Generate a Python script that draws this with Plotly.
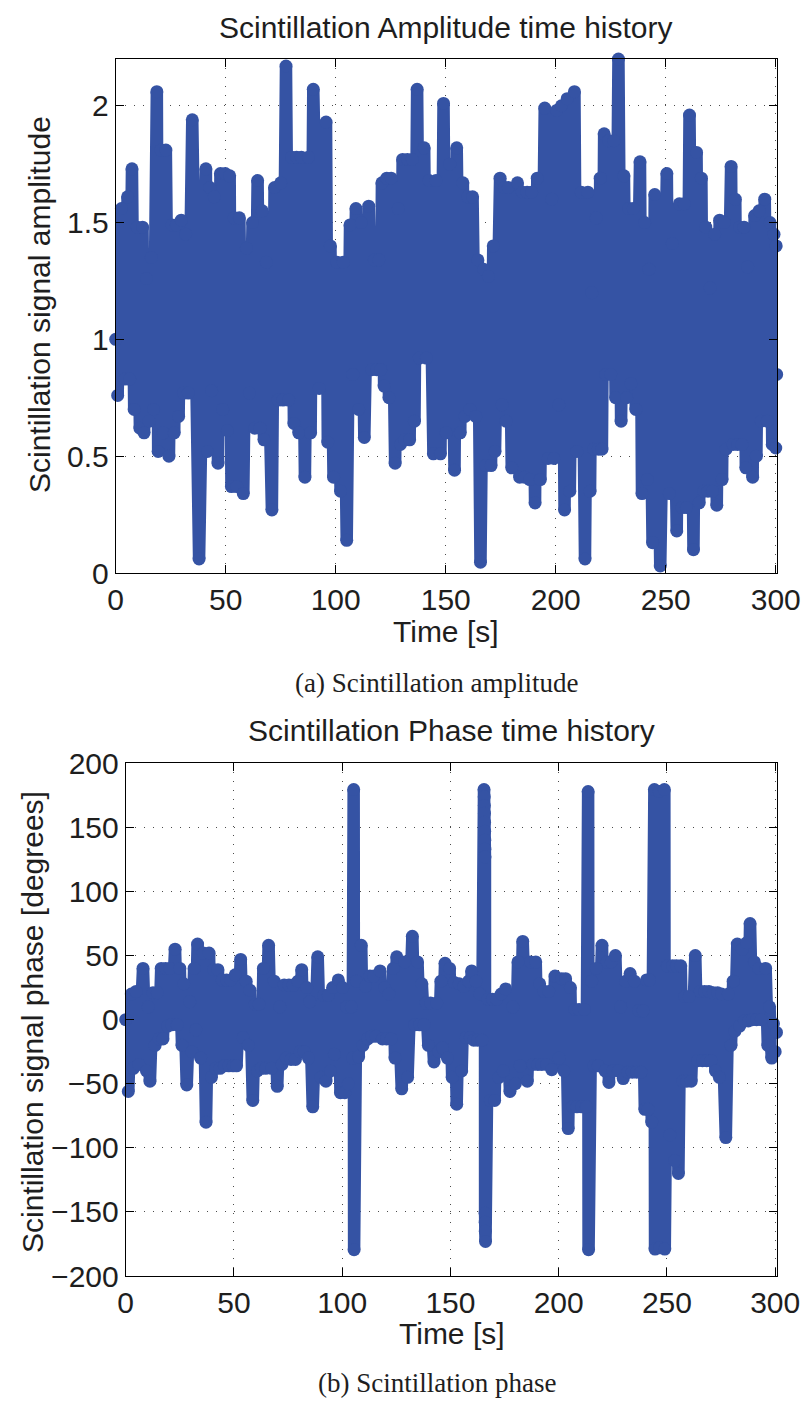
import plotly.graph_objects as go

# ---- Scintillation amplitude: time [s] and amplitude at the turning points ----
amp_t = [0.0, 0.9, 2.6, 4.2, 5.4, 6.3, 7.4, 8.4, 9.8, 11.0, 12.2, 12.9, 14.0, 15.2, 16.2, 17.2,
         18.7, 19.3, 20.6, 21.6, 22.8, 24.2, 25.6, 26.6, 27.6, 28.6, 29.8, 30.8, 31.8, 33.0,
         34.8, 37.9, 41.0, 41.7, 42.8, 43.6, 44.8, 46.5, 47.6, 48.6, 49.8, 50.7, 51.8, 52.6,
         53.8, 55.0, 56.2, 58.0, 59.4, 60.8, 62.2, 63.2, 64.5, 65.6, 66.6, 67.4, 68.5, 71.0,
         72.2, 73.8, 75.0, 76.0, 77.4, 78.6, 80.0, 81.0, 82.2, 83.2, 84.4, 86.0, 87.6, 88.6,
         89.8, 92.5, 95.6, 96.4, 97.6, 99.0, 100.6, 102.2, 103.4, 105.0, 106.5, 107.8, 109.2,
         110.4, 111.6, 113.0, 115.0, 116.4, 117.6, 118.6, 119.6, 120.4, 121.0, 122.0, 123.2,
         124.2, 125.2, 127.0, 128.4, 129.4, 130.4, 131.4, 132.6, 133.6, 134.8, 135.8, 137.0,
         138.0, 140.2, 141.2, 142.4, 144.4, 145.6, 147.6, 149.0, 150.2, 151.8, 154.0, 155.0,
         156.6, 157.8, 158.8, 160.0, 161.0, 162.2, 163.6, 164.6, 165.8, 167.2, 168.2, 169.4,
         170.6, 171.6, 172.4, 174.7, 175.6, 176.6, 177.4, 178.4, 180.0, 182.6, 183.6, 184.8,
         185.8, 187.0, 188.2, 189.0, 190.6, 191.6, 193.0, 195.0, 196.5, 198.2, 199.2, 200.4,
         201.4, 202.6, 204.0, 205.2, 206.4, 208.5, 209.6, 211.6, 213.3, 214.6, 215.6, 216.4,
         217.2, 218.4, 219.4, 220.2, 221.0, 222.0, 222.8, 224.0, 225.0, 226.4, 227.2, 228.5,
         229.7, 231.0, 232.2, 233.2, 234.2, 235.2, 236.4, 238.3, 239.2, 240.4, 241.6, 242.4,
         244.0, 245.0, 247.5, 250.5, 251.6, 253.0, 255.0, 256.2, 257.4, 258.4, 259.4, 260.8,
         262.6, 264.0, 265.2, 266.2, 267.2, 268.2, 269.2, 270.2, 271.2, 272.2, 273.2, 274.5,
         275.6, 276.6, 277.4, 279.7, 280.6, 281.6, 282.6, 283.6, 284.6, 285.6, 286.4, 287.2,
         289.5, 290.4, 291.2, 292.4, 293.4, 295.0, 296.2, 297.4, 298.4, 299.2, 300.0, 300.2,
         300.4]
amp_v = [1.00, 0.76, 1.56, 0.83, 1.61, 0.83, 1.73, 0.70, 1.48, 0.62, 1.48, 0.60, 1.26, 0.65, 1.35, 0.70,
         2.06, 0.52, 1.81, 0.60, 1.81, 0.50, 1.49, 0.60, 1.49, 0.67, 1.51, 0.77, 1.45, 0.77,
         1.94, 0.06, 1.73, 0.52, 1.65, 0.78, 1.61, 0.47, 1.71, 0.70, 1.71, 0.61, 1.70, 0.37,
         1.52, 0.37, 1.52, 0.34, 1.39, 0.77, 1.50, 0.62, 1.68, 0.62, 1.55, 0.57, 1.33, 0.27,
         1.65, 0.74, 1.67, 0.74, 2.17, 0.74, 1.78, 0.64, 1.78, 0.60, 1.78, 0.41, 1.78, 0.60,
         2.07, 0.79, 1.93, 0.56, 1.40, 0.41, 1.33, 0.35, 1.33, 0.14, 1.49, 0.85, 1.56,
         0.70, 1.50, 0.58, 1.57, 0.87, 1.34, 0.87, 1.34, 0.87, 1.67, 0.80, 1.69,
         0.75, 1.69, 0.47, 1.56, 0.55, 1.77, 0.57, 1.77, 0.57, 1.77, 0.65, 2.07,
         0.92, 1.82, 0.92, 1.68, 0.51, 1.68, 0.51, 2.01, 0.60, 1.75, 0.44, 1.82,
         0.60, 1.67, 0.67, 1.61, 0.70, 1.61, 0.67, 1.34, 0.046, 1.30, 0.46, 1.27,
         0.46, 1.40, 0.52, 1.69, 0.72, 1.65, 0.65, 1.65, 0.45, 1.67, 0.41, 1.63,
         0.41, 1.63, 0.40, 1.63, 0.30, 1.69, 0.40, 1.99, 0.49, 1.60, 0.49, 1.98,
         0.72, 2.00, 0.27, 2.03, 0.35, 2.06, 0.52, 1.63, 0.06, 1.63, 0.35, 1.20,
         0.53, 1.52, 0.53, 1.69, 0.53, 1.88, 0.85, 1.85, 0.85, 1.85, 0.75, 2.20,
         0.65, 1.70, 0.75, 1.56, 0.81, 1.56, 0.70, 1.76, 0.34, 1.50, 0.40, 1.30,
         0.13, 1.62, 0.03, 1.71, 0.34, 1.41, 0.18, 1.58, 0.28, 1.58, 0.28, 1.96,
         0.10, 1.80, 0.30, 1.69, 0.35, 1.48, 0.35, 1.22, 0.35, 1.45, 0.29, 1.51,
         0.40, 1.50, 0.53, 1.74, 0.55, 1.60, 0.55, 1.48, 0.55, 1.48, 0.45, 1.31,
         0.41, 1.53, 0.50, 1.55, 0.65, 1.60, 0.65, 1.50, 0.55, 1.45, 0.535, 1.40,
         0.85]

# ---- Scintillation phase: time [s] and phase [deg] at the turning points ----
phase_t = [0.0, 1.2, 2.6, 3.6, 4.8, 6.0, 8.0, 9.6, 10.4, 11.2, 12.6, 13.6, 14.6, 15.4, 16.4, 17.2,
           18.4, 19.4, 20.4, 21.2, 22.8, 23.8, 25.0, 26.0, 26.8, 28.2, 29.6, 30.6, 31.6, 32.4,
           33.2, 34.6, 35.8, 37.1, 38.5, 39.6, 40.6, 41.6, 42.6, 43.6, 44.6, 45.6, 46.6, 47.6,
           48.6, 49.6, 50.6, 51.2, 53.1, 54.2, 55.6, 56.6, 57.4, 58.7, 59.8, 60.8, 61.6, 62.6,
           63.6, 64.6, 66.0, 67.4, 68.6, 70.0, 71.2, 72.2, 73.2, 74.2, 75.4, 76.4, 77.4, 78.4,
           79.6, 80.6, 81.3, 82.4, 83.6, 84.4, 85.0, 86.4, 88.7, 90.2, 91.4, 92.5, 93.6, 94.6,
           95.6, 96.4, 98.2, 99.2, 100.2, 101.2, 102.0, 102.8, 104.2, 104.8, 105.3, 105.5,
           106.6, 107.6, 108.8, 109.6, 110.8, 111.8, 112.8, 113.6, 114.6, 115.6, 117.5, 118.6,
           119.6, 120.5, 121.6, 122.6, 123.6, 124.4, 125.2, 127.5, 128.8, 130.2, 132.4, 133.4,
           134.8, 135.8, 136.8, 137.8, 138.8, 139.8, 140.8, 142.4, 143.6, 144.6, 145.6, 146.4,
           147.5, 148.6, 149.6, 150.8, 151.8, 152.9, 154.0, 155.2, 156.2, 157.2, 158.4, 159.2,
           159.8, 160.8, 161.8, 162.6, 163.6, 164.6, 165.5, 165.6, 165.65, 165.7, 165.75, 165.8,
           165.85, 165.9, 165.95, 166.0, 166.05, 166.1, 166.2, 167.4, 168.4, 169.4, 170.4, 171.4,
           172.4, 173.4, 174.4, 175.5, 177.5, 178.8, 180.0, 181.2, 182.2, 183.4, 185.5, 187.0,
           188.2, 189.4, 190.4, 191.2, 192.2, 193.2, 194.4, 195.4, 196.8, 198.3, 200.2, 201.4,
           202.4, 203.2, 204.4, 205.4, 206.4, 207.4, 208.4, 209.4, 210.6, 211.8, 212.8, 213.6,
           213.8, 215.2, 216.2, 217.4, 218.2, 220.0, 221.4, 222.4, 223.2, 224.2, 225.0, 226.2,
           227.6, 228.6, 229.8, 231.0, 232.0, 233.0, 234.0, 235.0, 236.0, 237.0, 238.0, 239.0,
           239.8, 240.6, 241.3, 242.0, 243.0, 244.2, 244.5, 246.5, 246.6, 248.8, 249.0, 250.2,
           251.4, 252.6, 253.6, 254.4, 255.3, 256.4, 257.4, 258.2, 259.2, 260.2, 261.2, 263.1,
           264.2, 265.4, 266.4, 267.4, 268.4, 269.4, 270.4, 271.4, 272.4, 273.4, 274.2, 275.2,
           277.2, 278.4, 279.6, 280.6, 281.4, 282.5, 283.6, 284.8, 285.8, 286.8, 287.6, 288.4,
           289.4, 290.4, 291.4, 292.4, 293.6, 295.6, 296.6, 297.4, 298.4, 299.2, 300.0, 300.6]
phase_v = [0, -56, 20, -38, 22, -35, 40, -40, 10, -48, 21, -20, 21, -15, 40, -15,
           40, -5, 40, -4, 55, -4, 40, -20, 28, -51, 14, -25, 40, -8,
           59, -30, 52, -80, 52, -45, 39, -38, 39, -38, 31, -36, 31, -36,
           31, -36, 35, -36, 47, -14, 30, -20, 23, -63, 12, -40, 12, -38,
           40, -38, 58, -38, 30, -52, 10, -35, 27, -30, 27, -31, 27, -31,
           30, -25, 39, -25, 25, -30, 14, -68, 49, -45, 19, -48, 19, -40,
           25, -27, 31, -57, 25, -57, 10, -50, 10, -30, 179.5, -179.5,
           30, -29, 58, -20, 26, -15, 34, -13, 34, -13, 38, -15,
           25, -15, 20, -15, 40, -30, 49, -54, 45, -45, 65, -4,
           45, -4, 28, -4, 13, -20, 13, -33, 13, -25, 30, -22,
           44, -30, 40, -45, 29, -66, 28, -40, 26, -14, 30, -14,
           38, -16, 30, -16, 20, -16, 179.5, 174, 167, 161, 154, 147,
           140, 133, 127, -151, -158, -165, -173, 16, -63, 16, -63, 16,
           -45, 20, -40, 24, -56, 10, -50, 45, -36, 61, -48, 45,
           -35, 45, -35, 28, -35, 22, -35, 22, -39, 34, -30, 32,
           -40, 32, -85, 25, -68, 8, -68, 8, -68, 8, -68, 178,
           -179.5, 30, -36, 40, -36, 58, -40, 45, -49, 45, -40, 50,
           -40, 10, -46, 30, -41, 36, -41, 30, -41, 7, -41, 7,
           -70, 31, -70, 31, -80, 179.5, -179, 178, -178, 179.5, -179, 42,
           -90, 42, -110, 42, -120, 42, -48, 18, -48, 18, -48, 50,
           -32, 22, -32, 22, -32, 22, -32, 21, -40, 21, -45, 20,
           -92, 20, -20, 30, -9, 59, -5, 55, -1, 60, -1, 75,
           0, 45, 0, 40, 0, 40, -20, 10, -30, -3, -25, -10]

BLUE = "#3553a4"
INK = "#1e1e1e"
SANS = "Liberation Sans, Arial, Helvetica, sans-serif"
SERIF = "Liberation Serif, Times New Roman, serif"
W, H = 805, 1401


def px_x(x):
    return x / W


def px_y(y):
    return 1 - y / H


fig = go.Figure()
for t, v, xa, ya in [(amp_t, amp_v, "x", "y"), (phase_t, phase_v, "x2", "y2")]:
    fig.add_trace(go.Scatter(
        x=t, y=v, xaxis=xa, yaxis=ya, mode="lines+markers",
        line=dict(color=BLUE, width=12.5),
        marker=dict(color=BLUE, size=13, line=dict(width=0)),
        cliponaxis=False, hoverinfo="skip", showlegend=False,
    ))

axis_style = dict(
    showline=True, linecolor="black", linewidth=1, mirror="ticks",
    ticks="inside", ticklen=8, tickcolor="black", tickwidth=1,
    showgrid=True, gridcolor="rgba(0,0,0,0.7)", gridwidth=1, griddash="1px,8px",
    zeroline=False, tickfont=dict(family=SANS, size=30, color=INK),
    fixedrange=True, automargin=False,
)

fig.update_layout(
    template="none",
    width=W, height=H,
    margin=dict(l=0, r=0, t=0, b=0, pad=0),
    paper_bgcolor="white", plot_bgcolor="white",
    xaxis=dict(axis_style, domain=[px_x(115.7), px_x(777.3)], range=[0, 300.7],
               tickvals=[0, 50, 100, 150, 200, 250, 300], anchor="y"),
    yaxis=dict(axis_style, domain=[px_y(573), px_y(59)], range=[0, 2.2],
               tickvals=[0, 0.5, 1, 1.5, 2], ticktext=["0", "0.5", "1", "1.5", "2"], anchor="x"),
    xaxis2=dict(axis_style, domain=[px_x(125.7), px_x(776.7)], range=[0, 300.7],
                tickvals=[0, 50, 100, 150, 200, 250, 300], anchor="y2"),
    yaxis2=dict(axis_style, domain=[px_y(1276), px_y(763.3)], range=[-200, 200],
                tickvals=[-200, -150, -100, -50, 0, 50, 100, 150, 200], anchor="x2"),
)

texts = [
    ("Scintillation Amplitude time history", 446, 28, 0, SANS, 30),
    ("Time [s]", 446, 631, 0, SANS, 30),
    ("Scintillation signal amplitude", 40, 305, -90, SANS, 30),
    ("(a) Scintillation amplitude", 437, 683, 0, SERIF, 27),
    ("Scintillation Phase time history", 451, 730, 0, SANS, 30),
    ("Time [s]", 452, 1333, 0, SANS, 30),
    ("Scintillation signal phase [degrees]", 32, 1022, -90, SANS, 30),
    ("(b) Scintillation phase", 437, 1383, 0, SERIF, 27),
]
for txt, x, y, ang, fam, size in texts:
    fig.add_annotation(
        text=txt, x=px_x(x), y=px_y(y), xref="paper", yref="paper",
        xanchor="center", yanchor="middle", textangle=ang, showarrow=False,
        font=dict(family=fam, size=size, color=INK),
    )

fig.write_html("out.html")
